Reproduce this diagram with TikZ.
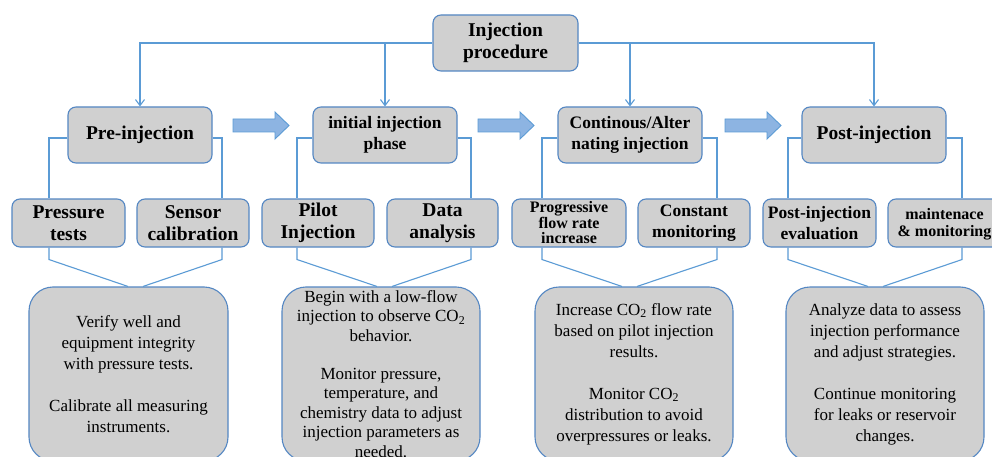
\documentclass[tikz,border=0pt]{standalone}
\usepackage{fontspec}
\setmainfont{Liberation Serif}
\usetikzlibrary{arrows.meta}
\definecolor{boxfill}{RGB}{208,208,208}
\definecolor{boxline}{RGB}{84,135,195}
\definecolor{conncol}{RGB}{91,155,213}
\definecolor{arrfill}{RGB}{141,180,226}
\newcommand{\bigf}{\fontsize{19.5}{22.5}\selectfont}
\newcommand{\midf}{\fontsize{17.5}{21}\selectfont}
\newcommand{\smf}{\fontsize{16}{15.5}\selectfont}
\newcommand{\txf}{\fontsize{17}{21}\selectfont}
\tikzset{
  phasebox/.style={draw=boxline, line width=1.1pt, fill=boxfill, rounded corners=8pt,
    minimum width=144pt, minimum height=56pt, inner sep=0pt, align=center, font=\bfseries\bigf},
  subbox/.style={draw=boxline, line width=1.1pt, fill=boxfill, rounded corners=8pt,
    minimum width=113pt, minimum height=48pt, inner sep=0pt, align=center, font=\bfseries\bigf},
  descbox/.style={draw=boxline, line width=1.1pt, fill=boxfill, rounded corners=24pt,
    minimum width=198pt, minimum height=174pt, inner sep=0pt, align=center, font=\txf},
  conn/.style={draw=conncol, line width=1.1pt},
  down/.style={conn, -{Straight Barb[length=6pt,width=9pt]}},
  bigarrow/.style={draw=conncol, line width=0.9pt, fill=arrfill},
}
\begin{document}
\begin{tikzpicture}[x=1pt,y=-1pt]
\useasboundingbox (0,0) rectangle (992,457);
\clip (0,0) rectangle (992,457);
\fill[white] (0,0) rectangle (992,457);

% top node
\node[phasebox, minimum width=145pt] (top) at (505.5,43) {Injection\\ procedure};

% phase boxes
\node[phasebox] (pre) at (140,135) {Pre-injection};
\node[phasebox, font=\bfseries\midf] (ini) at (385,135) {initial injection\\ phase};
\node[phasebox, font=\bfseries\midf] (con) at (630,135) {Continous/Alter\\ nating injection};
\node[phasebox] (post) at (874,135) {Post-injection};

% connectors from top
\draw[down] (top.west) -| (pre.north);
\draw[down] (top.east) -| (post.north);
\draw[down] (top.west -| ini.north) -- (ini.north);
\draw[down] (top.east -| con.north) -- (con.north);

% big arrows
\draw[bigarrow] (233,119) -- (275,119) -- (275,112) -- (289,125.5) -- (275,139) -- (275,132) -- (233,132) -- cycle;
\draw[bigarrow] (478,119) -- (520,119) -- (520,112) -- (534,125.5) -- (520,139) -- (520,132) -- (478,132) -- cycle;
\draw[bigarrow] (725,119) -- (767,119) -- (767,112) -- (781,125.5) -- (767,139) -- (767,132) -- (725,132) -- cycle;

% sub boxes
\node[subbox] (pt) at (68.5,223) {Pressure\\ tests};
\node[subbox, minimum width=112pt] (sc) at (193,223) {Sensor\\ calibration};
\node[subbox, minimum width=112pt] (pi) at (318,223) {Pilot\\ Injection};
\node[subbox, minimum width=111pt] (da) at (442.5,223) {Data\\ analysis};
\node[subbox, minimum width=114pt, font=\bfseries\smf] (pr) at (569,223) {Progressive\\ flow rate\\ increase};
\node[subbox, minimum width=112pt, font=\bfseries\midf] (cm) at (694,223) {Constant\\ monitoring};
\node[subbox, font=\bfseries\midf] (pe) at (819.5,223) {Post-injection\\ evaluation};
\node[subbox, font=\bfseries\fontsize{16}{16.5}\selectfont] (mm) at (944.5,223) {\rule{0pt}{14pt}maintenace\\ \& monitoring};

% branches from phase boxes
\draw[conn] ([yshift=-3pt]pre.west) -| ([xshift=-19.5pt]pt.north);
\draw[conn] ([yshift=-3pt]pre.east) -| ([xshift=29pt]sc.north);
\draw[conn] ([yshift=-3pt]ini.west) -| ([xshift=-21pt]pi.north);
\draw[conn] ([yshift=-3pt]ini.east) -| ([xshift=28.5pt]da.north);
\draw[conn] ([yshift=-3pt]con.west) -| ([xshift=-27pt]pr.north);
\draw[conn] ([yshift=-3pt]con.east) -| ([xshift=23pt]cm.north);
\draw[conn] ([yshift=-3pt]post.west) -| ([xshift=-31.5pt]pe.north);
\draw[conn] ([yshift=-3pt]post.east) -| ([xshift=17.5pt]mm.north);

% description boxes
\node[descbox, minimum width=199pt] (d1) at (128.5,374) {Verify well and\\ equipment integrity\\ with pressure tests.\\[21pt] Calibrate all measuring\\ instruments.};
\node[descbox, font=\fontsize{17}{19.6}\selectfont] (d2) at (381,374) {Begin with a low-flow\\ injection to observe CO\textsubscript{2}\\ behavior.\\[18pt] Monitor pressure,\\ temperature, and\\ chemistry data to adjust\\ injection parameters as\\ needed.};
\node[descbox] (d3) at (634,374) {Increase CO\textsubscript{2} flow rate\\ based on pilot injection\\ results.\\[21pt] Monitor CO\textsubscript{2}\\ distribution to avoid\\ overpressures or leaks.};
\node[descbox] (d4) at (885,374) {Analyze data to assess\\ injection performance\\ and adjust strategies.\\[21pt] Continue monitoring\\ for leaks or reservoir\\ changes.};

% funnels
\draw[conn] ([xshift=-19.5pt]pt.south) -- ++(0,12) -- ([xshift=-0.5pt]d1.north);
\draw[conn] ([xshift=29pt]sc.south) -- ++(0,12) -- ([xshift=14.5pt]d1.north);
\draw[conn] ([xshift=-21pt]pi.south) -- ++(0,12) -- ([xshift=-4pt]d2.north);
\draw[conn] ([xshift=28.5pt]da.south) -- ++(0,12) -- ([xshift=11pt]d2.north);
\draw[conn] ([xshift=-27pt]pr.south) -- ++(0,12) -- ([xshift=-12pt]d3.north);
\draw[conn] ([xshift=23pt]cm.south) -- ++(0,12) -- ([xshift=3pt]d3.north);
\draw[conn] ([xshift=-31.5pt]pe.south) -- ++(0,12) -- ([xshift=-17pt]d4.north);
\draw[conn] ([xshift=17.5pt]mm.south) -- ++(0,12) -- ([xshift=-2pt]d4.north);
\end{tikzpicture}
\end{document}
